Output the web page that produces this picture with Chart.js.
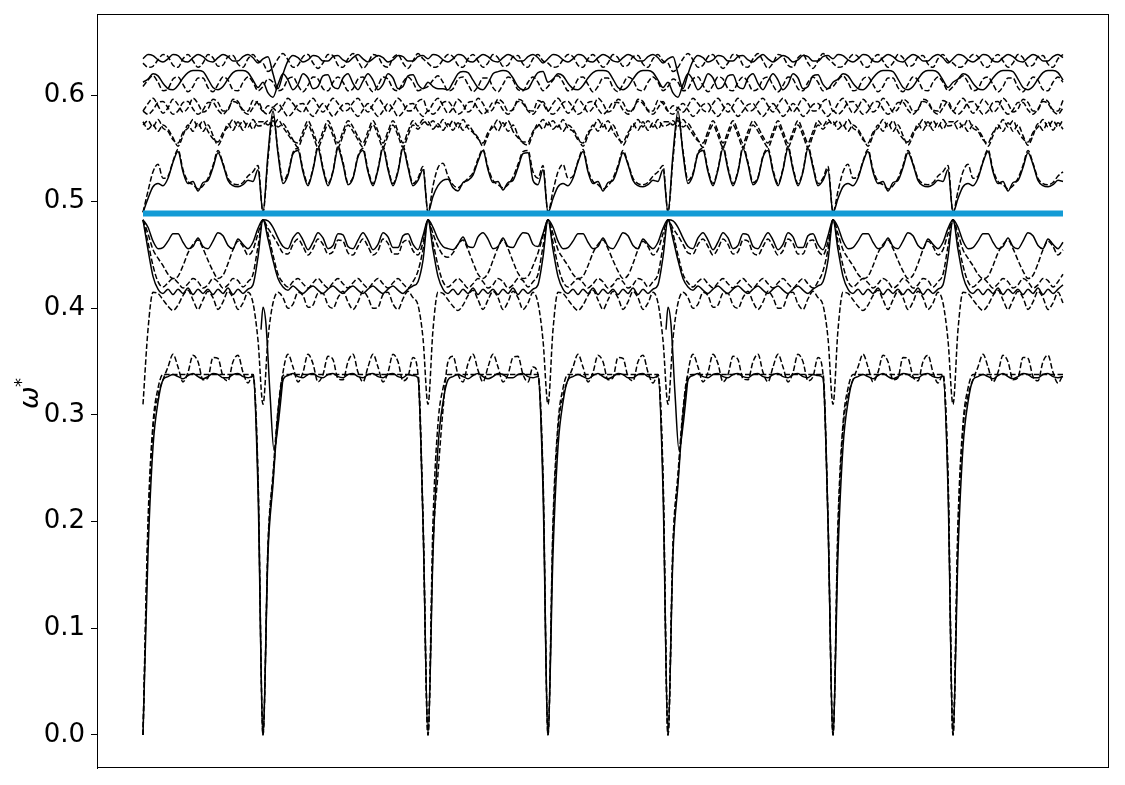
<!DOCTYPE html>
<html><head><meta charset="utf-8">
<script src="https://cdn.jsdelivr.net/npm/chart.js@4.4.0/dist/chart.umd.min.js"></script>
<style>html,body{margin:0;padding:0;background:#fff;}#wrap{width:1125px;height:785px;}</style>
</head><body><div id="wrap"><canvas id="c" width="1125" height="785"></canvas></div>
<script>
// local k-grids of the two segment types (path units)
const gridA = [0,5,10,15,20,25,30,35,40,45,50,55,60,65,70,75,80,85,90,95,100,105,110,115,120];
const gridB = [0,5,10,15,20,25,30,35,40,45,50,55,60,65,70,75,80,85,90,95,100,105,110,115,120,125,130,135,140,145,150,155,160,165];
// path segments
const segStart = [0,120,285,405,525,690,810];
const segType  = ['A','B','C','A','B','A','A'];
const segLen   = [120,165,120,120,165,120,110];

// upper group
const U0_A = [.634,.638,.637,.633,.631,.634,.638,.637,.632,.631,.635,.638,.636,.632,.631,.635,.638,.636,.632,.632,.636,.638,.635,.630,.634];
const U0_B = [.634,.636,.620,.606,.620,.632,.637,.635,.631,.633,.637,.636,.632,.632,.636,.637,.633,.631,.635,.638,.634,.631,.634,.637,.635,.631,.633,.637,.636,.632,.632,.636,.637,.634];
const U1_A = [.630,.626,.627,.633,.638,.636,.628,.626,.634,.638,.632,.626,.630,.638,.635,.627,.628,.636,.637,.629,.626,.634,.638,.632,.630];
const U1_B = [.630,.622,.626,.634,.639,.633,.626,.628,.636,.638,.630,.625,.630,.638,.637,.628,.626,.634,.639,.632,.625,.630,.638,.636,.628,.626,.635,.638,.630,.625,.632,.639,.634,.630];
const U2_A = [.612,.615,.620,.618,.611,.606,.605,.609,.616,.621,.623,.623,.622,.615,.607,.605,.608,.615,.621,.623,.623,.621,.614,.607,.612];
const U2_B = [.612,.602,.598,.610,.620,.614,.605,.610,.620,.616,.606,.608,.618,.619,.608,.606,.616,.620,.611,.605,.613,.620,.614,.605,.610,.620,.616,.606,.608,.618,.619,.610,.606,.612];
const U2_C = [.612,.608,.606,.606,.605,.612,.620,.622,.621,.614,.607,.605,.611,.620,.622,.623,.622,.616,.608,.605,.606,.614,.621,.622,.612];
const U2d_A = [.608,.614,.618,.612,.604,.606,.615,.617,.610,.603,.608,.616,.616,.607,.603,.610,.617,.614,.605,.604,.612,.617,.612,.604,.608];
const U2d_B = [.608,.615,.612,.604,.606,.615,.617,.609,.603,.609,.617,.615,.606,.604,.612,.617,.612,.604,.606,.615,.617,.609,.603,.609,.617,.615,.606,.604,.612,.617,.612,.604,.606,.608];
const U3_A = [.585,.582,.586,.593,.594,.588,.582,.585,.593,.594,.587,.582,.586,.593,.593,.586,.582,.587,.594,.592,.585,.582,.588,.594,.585];
const U3_B = [.585,.582,.588,.592,.586,.580,.584,.591,.592,.585,.580,.586,.592,.586,.580,.585,.591,.592,.585,.580,.586,.592,.586,.580,.585,.592,.587,.580,.584,.591,.592,.585,.580,.585];
const U4_A = [.585,.592,.597,.590,.583,.588,.596,.591,.584,.588,.597,.592,.584,.587,.596,.593,.585,.586,.596,.594,.586,.585,.595,.592,.585];
const U4_B = [.585,.590,.588,.584,.590,.597,.592,.586,.584,.592,.597,.590,.584,.590,.597,.592,.585,.586,.593,.597,.590,.584,.591,.597,.591,.584,.590,.597,.592,.585,.586,.594,.596,.585];
const U5_A = [.575,.568,.572,.566,.572,.568,.560,.552,.562,.572,.566,.574,.566,.572,.562,.553,.562,.573,.567,.575,.567,.574,.568,.575,.575];
const U5_B = [.575,.572,.576,.570,.573,.566,.558,.551,.562,.572,.562,.551,.562,.572,.562,.551,.562,.572,.566,.558,.551,.562,.572,.562,.551,.562,.572,.562,.551,.562,.572,.568,.574,.575];
const U5_C = [.575,.568,.573,.567,.573,.567,.574,.567,.572,.566,.560,.552,.562,.572,.566,.574,.566,.572,.562,.555,.553,.564,.573,.568,.575];
const U5b_A = [.572,.576,.570,.577,.569,.566,.558,.555,.565,.569,.577,.570,.576,.566,.559,.556,.565,.570,.577,.570,.576,.570,.577,.571,.572];
const U5b_B = [.572,.576,.571,.577,.570,.563,.557,.555,.566,.576,.566,.555,.566,.576,.566,.555,.566,.576,.570,.561,.555,.566,.576,.566,.555,.566,.576,.566,.555,.566,.576,.571,.577,.572];
const U5b_C = [.572,.576,.570,.577,.570,.576,.569,.577,.569,.565,.559,.555,.565,.570,.577,.570,.576,.566,.560,.556,.556,.566,.571,.577,.572];
const U6_A = [.490,.503,.514,.517,.515,.522,.537,.547,.528,.517,.519,.510,.518,.520,.532,.546,.535,.520,.515,.514,.516,.520,.519,.530,.490];
const U6_B = [.490,.545,.585,.545,.517,.525,.545,.548,.528,.515,.530,.550,.530,.515,.528,.550,.535,.516,.522,.542,.548,.528,.515,.530,.550,.530,.515,.528,.550,.532,.515,.520,.530,.490];
const U6_C = [.490,.505,.515,.520,.521,.513,.510,.518,.520,.525,.538,.548,.530,.518,.519,.511,.518,.520,.532,.545,.546,.520,.516,.530,.490];
const U7_A = [.490,.510,.528,.535,.522,.524,.538,.549,.530,.519,.516,.512,.515,.522,.534,.548,.536,.522,.517,.516,.518,.524,.528,.534,.490];
const U7_B = [.490,.540,.580,.548,.520,.527,.546,.550,.530,.517,.531,.552,.532,.517,.529,.552,.537,.518,.523,.543,.550,.530,.517,.531,.552,.532,.517,.529,.552,.534,.517,.522,.533,.490];
const U7_C = [.490,.515,.532,.536,.524,.516,.513,.517,.522,.527,.540,.549,.532,.520,.516,.513,.516,.523,.535,.547,.548,.528,.522,.534,.490];
// middle group
const M1_A = [.483,.476,.463,.456,.457,.463,.470,.470,.462,.456,.458,.466,.458,.456,.463,.471,.468,.459,.456,.465,.460,.456,.462,.475,.483];
const M1_B = [.483,.482,.476,.466,.458,.456,.466,.471,.464,.455,.462,.471,.466,.456,.459,.470,.469,.458,.456,.464,.471,.464,.455,.460,.471,.467,.457,.457,.468,.470,.460,.455,.468,.483];
const M1_C = [.483,.476,.465,.458,.456,.455,.460,.467,.458,.457,.467,.471,.465,.456,.458,.466,.458,.457,.465,.471,.470,.460,.458,.470,.483];
const M2_A = [.483,.470,.455,.447,.440,.432,.428,.430,.440,.452,.460,.464,.456,.445,.435,.428,.431,.442,.455,.463,.458,.450,.455,.470,.483];
const M2_B = [.483,.475,.468,.460,.452,.451,.460,.465,.458,.450,.456,.465,.460,.451,.453,.464,.463,.452,.450,.458,.465,.458,.450,.454,.465,.461,.451,.451,.462,.464,.454,.450,.462,.483];
const M2_C = [.483,.470,.458,.450,.448,.452,.460,.464,.455,.443,.432,.428,.433,.445,.457,.464,.456,.444,.433,.428,.430,.440,.452,.468,.483];
const M3_A = [.483,.462,.440,.425,.420,.424,.428,.424,.419,.423,.428,.425,.419,.422,.428,.425,.419,.422,.428,.426,.420,.425,.432,.458,.483];
const M3_B = [.483,.470,.450,.432,.424,.420,.425,.428,.423,.419,.424,.428,.423,.419,.424,.428,.423,.419,.424,.428,.423,.419,.424,.428,.423,.419,.424,.428,.423,.419,.425,.435,.455,.483];
const M4_A = [.483,.455,.430,.418,.414,.418,.413,.418,.414,.419,.413,.418,.414,.418,.413,.418,.414,.419,.413,.418,.414,.418,.422,.448,.483];
const M4_B = [.483,.465,.445,.428,.420,.417,.421,.417,.414,.418,.421,.417,.414,.418,.421,.417,.414,.418,.421,.417,.414,.418,.421,.417,.414,.418,.421,.417,.414,.418,.421,.425,.445,.483];
const M5_A = [.310,.380,.415,.414,.408,.402,.398,.403,.412,.417,.408,.399,.408,.416,.410,.399,.406,.416,.410,.399,.405,.415,.405,.370,.310];
const M5_B = [.310,.372,.405,.415,.410,.400,.404,.415,.412,.401,.403,.414,.414,.403,.400,.410,.416,.406,.399,.406,.416,.410,.400,.401,.413,.415,.404,.399,.409,.416,.410,.403,.372,.310];
// lower group
const L1_A = [0,.190,.286,.318,.333,.345,.357,.345,.331,.340,.356,.350,.333,.335,.354,.353,.336,.332,.350,.356,.340,.330,.338,.240,0];
const L1_B = [0,.176,.240,.300,.340,.357,.345,.331,.340,.357,.348,.331,.338,.355,.352,.334,.333,.350,.357,.340,.331,.345,.357,.345,.331,.340,.357,.350,.332,.336,.354,.338,.200,0];
const L1_C = [0,.176,.245,.305,.350,.355,.338,.331,.348,.357,.342,.331,.345,.357,.345,.331,.338,.354,.355,.338,.331,.345,.338,.240,0];
const L2_A = [0,.170,.270,.312,.333,.336,.338,.336,.334,.337,.339,.336,.334,.336,.339,.338,.335,.335,.338,.339,.336,.335,.336,.230,0];
const L2_B = [0,.170,.235,.300,.333,.337,.339,.336,.335,.338,.339,.336,.335,.338,.339,.336,.335,.338,.339,.336,.335,.338,.339,.336,.335,.338,.339,.336,.335,.338,.337,.335,.200,0];
const L3_A = [0,.200,.292,.325,.338,.338,.338,.338,.338,.338,.338,.338,.338,.338,.338,.338,.338,.338,.338,.338,.338,.338,.338,.245,0];
const L3_B = [0,.180,.245,.305,.337,.338,.338,.338,.338,.338,.338,.338,.338,.338,.338,.338,.338,.338,.338,.338,.338,.338,.338,.338,.338,.338,.338,.338,.338,.338,.338,.338,.205,0];
// isolated solid branch at the two long segments' starts
const spikeX = [118,120,123,127,131,135,140,141,523,525,528,532,536,540,545];
const spikeY = [.38,.401,.385,.32,.267,.29,.335,null,.38,.401,.385,.32,.267,.29,.335];
// reference frequency (blue)
const refX = [0,920];
const refY = [.489,.489];
// y ticks
const yTicks = [0,0.1,0.2,0.3,0.4,0.5,0.6];

const bands = [
  {id:'U0',A:U0_A,B:U0_B},{id:'U1',A:U1_A,B:U1_B},{id:'U2',A:U2_A,B:U2_B,C:U2_C},
  {id:'U2d',A:U2d_A,B:U2d_B},{id:'U3',A:U3_A,B:U3_B},{id:'U4',A:U4_A,B:U4_B},
  {id:'U5',A:U5_A,B:U5_B,C:U5_C},{id:'U5b',A:U5b_A,B:U5b_B,C:U5b_C},
  {id:'U6',A:U6_A,B:U6_B,C:U6_C},{id:'U7',A:U7_A,B:U7_B,C:U7_C},
  {id:'M1',A:M1_A,B:M1_B,C:M1_C},{id:'M2',A:M2_A,B:M2_B,C:M2_C},
  {id:'M3',A:M3_A,B:M3_B},{id:'M4',A:M4_A,B:M4_B},{id:'M5',A:M5_A,B:M5_B},
  {id:'L1',A:L1_A,B:L1_B,C:L1_C},{id:'L2',A:L2_A,B:L2_B},{id:'L3',A:L3_A,B:L3_B}
];
const dashedIds = ['U1','U2d','U3','U4','U5','U5b','U7','M2','M3','M5','L1','L3'];

function build(band){
  const pts = [];
  segType.forEach((t,i)=>{
    const grid = t==='B' ? gridB : gridA;
    const vals = band[t] || band.A;
    grid.forEach((u,j)=>{
      if (u > segLen[i]) return;
      if (i > 0 && j === 0) return;
      pts.push({x: segStart[i] + u, y: vals[j]});
    });
  });
  return pts;
}

const datasets = [{
  data: refX.map((x,i)=>({x, y: refY[i]})),
  borderColor:'#139bd5', borderWidth:6, pointRadius:0, order:0, borderCapStyle:'butt'
}];
bands.forEach(b=>{
  datasets.push({
    data: build(b), borderColor:'#000', borderWidth:1.5, pointRadius:0, order:1,
    borderDash: dashedIds.includes(b.id) ? [5.5,2.4] : [],
    cubicInterpolationMode:'monotone'
  });
});
datasets.push({
  data: spikeX.map((x,i)=>({x, y: spikeY[i]})), borderColor:'#000', borderWidth:1.5,
  pointRadius:0, order:1, cubicInterpolationMode:'monotone', spanGaps:false
});

const framePlugin = {
  id:'frame',
  afterDraw(chart){
    const {ctx, chartArea:a} = chart;
    ctx.save();
    ctx.strokeStyle='#000'; ctx.lineWidth=1;
    ctx.strokeRect(Math.round(a.left)+0.5, Math.round(a.top)+0.5, Math.round(a.right-a.left)-1, Math.round(a.bottom-a.top)-1);
    // axis title  ω*
    ctx.translate(38, 399);
    ctx.rotate(-Math.PI/2);
    ctx.fillStyle='#000';
    ctx.textAlign='left'; ctx.textBaseline='alphabetic';
    ctx.font='italic 27px "DejaVu Sans"';
    ctx.fillText('ω', -10, 0);
    ctx.font='18px "DejaVu Sans"';
    ctx.fillText('*', 12, -11);
    ctx.restore();
  }
};

new Chart(document.getElementById('c'), {
  type:'line',
  data:{datasets},
  plugins:[framePlugin],
  options:{
    responsive:false, animation:false, devicePixelRatio:1,
    layout:{padding:{left:0,right:16,top:14,bottom:17}},
    plugins:{legend:{display:false}, tooltip:{enabled:false}},
    elements:{line:{fill:false}},
    scales:{
      x:{type:'linear', min:-46, max:966, display:false},
      y:{type:'linear', min:-0.031, max:0.676,
        afterFit(s){ s.width = 97; s.paddingTop = 0; s.paddingBottom = 0; },
        afterBuildTicks(s){ s.ticks = yTicks.map(v=>({value:v})); },
        border:{display:true, color:'#000', width:1},
        grid:{display:true, drawOnChartArea:false, drawTicks:true, tickLength:6, color:'#000', lineWidth:1},
        ticks:{padding:6, color:'#000', font:{family:'DejaVu Sans', size:26}, callback:v=>Number(v).toFixed(1)}
      }
    }
  }
});
</script></body></html>
